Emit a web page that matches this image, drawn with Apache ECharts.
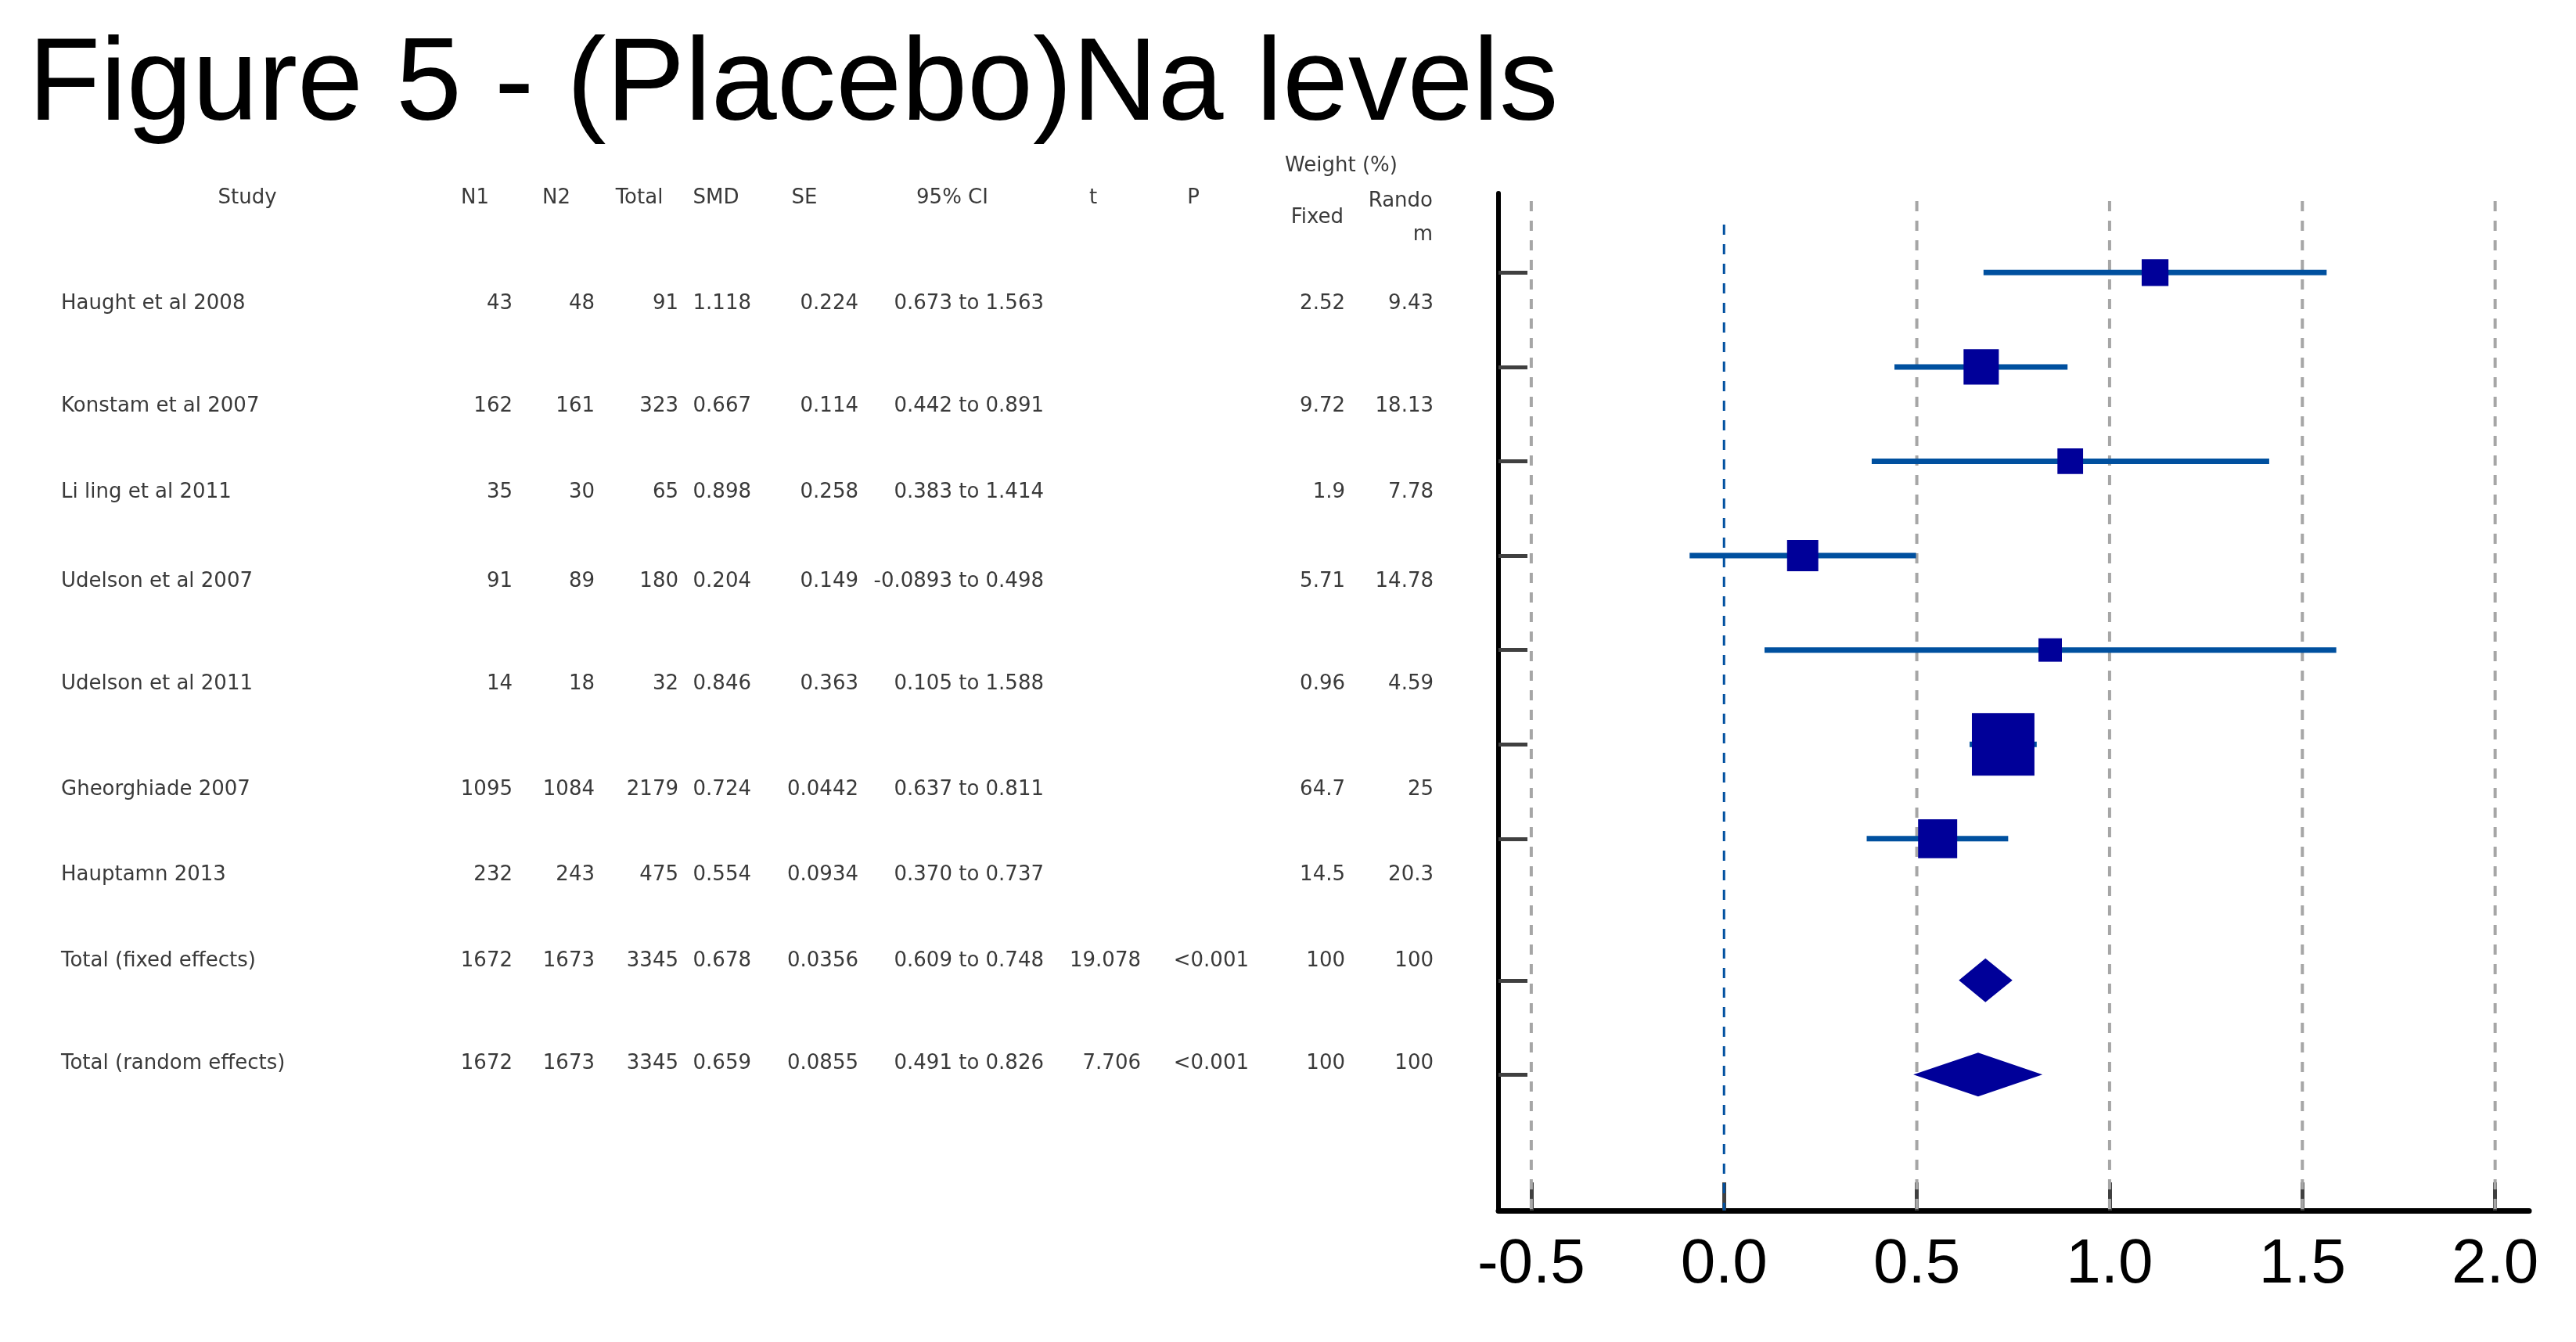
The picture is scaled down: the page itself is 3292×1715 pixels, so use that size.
<!DOCTYPE html>
<html>
<head>
<meta charset="utf-8">
<script src="https://cdn.jsdelivr.net/npm/echarts@6/dist/echarts.min.js"></script>
<style>
html,body{margin:0;padding:0;background:#fff;}
#chart{width:3292px;height:1715px;}
</style>
</head>
<body>
<div id="chart"></div>
<script>
// ---------------- data ----------------
const titleText = 'Figure 5 - (Placebo)Na levels';
const studies = ['Haught et al 2008','Konstam et al 2007','Li ling et al 2011','Udelson et al 2007','Udelson et al 2011','Gheorghiade 2007','Hauptamn 2013','Total (fixed effects)','Total (random effects)'];
const n1 = ['43','162','35','91','14','1095','232','1672','1672'];
const n2 = ['48','161','30','89','18','1084','243','1673','1673'];
const totalN = ['91','323','65','180','32','2179','475','3345','3345'];
const smd = ['1.118','0.667','0.898','0.204','0.846','0.724','0.554','0.678','0.659'];
const se = ['0.224','0.114','0.258','0.149','0.363','0.0442','0.0934','0.0356','0.0855'];
const ciLow = ['0.673','0.442','0.383','-0.0893','0.105','0.637','0.370','0.609','0.491'];
const ciHigh = ['1.563','0.891','1.414','0.498','1.588','0.811','0.737','0.748','0.826'];
const tStat = ['','','','','','','','19.078','7.706'];
const pVal = ['','','','','','','','<0.001','<0.001'];
const weightFixed = ['2.52','9.72','1.9','5.71','0.96','64.7','14.5','100','100'];
const weightRandom = ['9.43','18.13','7.78','14.78','4.59','25','20.3','100','100'];
const pooledCount = 2;
const xTicks = [-0.5, 0, 0.5, 1, 1.5, 2];
const headerLabels = ['Study','N1','N2','Total','SMD','SE','95% CI','t','P'];
const weightHeader = 'Weight (%)';
const weightSubHeaders = ['Fixed','Rando','m'];

// ---------------- layout (pixels / styles) ----------------
const nStudies = studies.length - pooledCount;
const rowPos = studies.map((s, i) => i < nStudies ? i : i + 0.5);
const TABLE_ROW_Y = [388, 519, 629, 743, 874, 1009, 1118, 1228, 1359];
const TABLE_FONT = {fontSize: 26, fontFamily: '"DejaVu Sans"', fill: '#3a3a3a'};
const HEADER_X = [316, 607, 711, 817, 915, 1028, 1217, 1397, 1525];
const HEADER_Y = 253;

const ciText = ciLow.map((v, i) => v + ' to ' + ciHigh[i]);
const columns = [
  {src: studies, x: 78, align: 'left'},
  {src: n1, x: 655, align: 'right'},
  {src: n2, x: 760, align: 'right'},
  {src: totalN, x: 867, align: 'right'},
  {src: smd, x: 960, align: 'right'},
  {src: se, x: 1097, align: 'right'},
  {src: ciText, x: 1334, align: 'right'},
  {src: tStat, x: 1458, align: 'right'},
  {src: pVal, x: 1596, align: 'right'},
  {src: weightFixed, x: 1719, align: 'right'},
  {src: weightRandom, x: 1832, align: 'right'}
];

function txt(text, x, y, align, extra) {
  return {
    type: 'text', x: x, y: y, silent: true,
    style: Object.assign({text: text, align: align, verticalAlign: 'middle'}, TABLE_FONT, extra || {})
  };
}

const graphics = [];
graphics.push({
  type: 'text', x: 36, y: 111, silent: true,
  style: {text: titleText, fontSize: 151, fontFamily: '"Liberation Sans", Arial', fill: '#000', align: 'left', verticalAlign: 'middle'}
});
headerLabels.forEach((h, i) => graphics.push(txt(h, HEADER_X[i], HEADER_Y, 'center')));
graphics.push(txt(weightHeader, 1714, 212, 'center'));
graphics.push(txt(weightSubHeaders[0], 1717, 278, 'right'));
graphics.push(txt(weightSubHeaders[1], 1831, 257, 'right'));
graphics.push(txt(weightSubHeaders[2], 1831, 300, 'right'));
columns.forEach(col => {
  col.src.forEach((v, i) => {
    if (v !== '') graphics.push(txt(v, col.x, TABLE_ROW_Y[i], col.align));
  });
});

// series data
const studyData = [];
const pooledData = [];
studies.forEach((s, i) => {
  const item = [Number(smd[i]), rowPos[i], Number(ciLow[i]), Number(ciHigh[i]), Number(weightFixed[i])];
  if (i < nStudies) studyData.push(item); else pooledData.push(item);
});

const chart = echarts.init(document.getElementById('chart'));
chart.setOption({
  backgroundColor: '#ffffff',
  animation: false,
  graphic: {elements: graphics},
  grid: {left: 1915, top: 247, width: 1317, height: 1300, containLabel: false},
  xAxis: {
    type: 'value', min: -0.585, max: 2.088,
    axisLine: {show: true, onZero: false, lineStyle: {color: '#000', width: 7}},
    axisTick: {show: true, inside: true, length: 36, customValues: xTicks, lineStyle: {color: '#404040', width: 5}},
    axisLabel: {show: true, customValues: xTicks, formatter: v => Number(v).toFixed(1), fontSize: 80, fontFamily: '"Liberation Sans", Arial', color: '#000', margin: 30},
    splitLine: {show: false}
  },
  yAxis: {
    type: 'value', inverse: true, min: -0.84, max: 9.94,
    axisLine: {show: true, onZero: false, lineStyle: {color: '#000', width: 6}},
    axisTick: {show: true, inside: true, length: 37, customValues: rowPos, lineStyle: {color: '#404040', width: 5}},
    axisLabel: {show: false},
    splitLine: {show: false}
  },
  series: [
    {
      type: 'custom', name: 'grid', z: 1, silent: true,
      data: xTicks.map(v => [v]),
      encode: {x: 0},
      renderItem: function (params, api) {
        const cs = params.coordSys;
        const x = api.coord([api.value(0), 0])[0];
        const zero = api.value(0) === 0;
        return {
          type: 'line',
          shape: {x1: x, y1: cs.y + (zero ? 40 : 10), x2: x, y2: cs.y + cs.height},
          style: {stroke: zero ? '#0050a0' : '#a6a6a6', lineWidth: zero ? 3 : 4, lineDash: [13, 12]}
        };
      }
    },
    {
      type: 'custom', name: 'studies', z: 5, silent: true,
      data: studyData,
      encode: {x: [0, 2, 3], y: 1},
      renderItem: function (params, api) {
        const y = api.value(1);
        const c = api.coord([api.value(0), y]);
        const lo = api.coord([api.value(2), y]);
        const hi = api.coord([api.value(3), y]);
        const s = 23 + 7.08 * Math.sqrt(api.value(4));
        return {
          type: 'group',
          children: [
            {type: 'line', shape: {x1: lo[0], y1: c[1], x2: hi[0], y2: c[1]}, style: {stroke: '#00509f', lineWidth: 7}},
            {type: 'rect', shape: {x: c[0] - s / 2, y: c[1] - s / 2, width: s, height: s}, style: {fill: '#000099'}}
          ]
        };
      }
    },
    {
      type: 'custom', name: 'pooled', z: 5, silent: true,
      data: pooledData,
      encode: {x: [0, 2, 3], y: 1},
      renderItem: function (params, api) {
        const y = api.value(1);
        const c = api.coord([api.value(0), y]);
        const lo = api.coord([api.value(2), y]);
        const hi = api.coord([api.value(3), y]);
        const h = 28;
        return {
          type: 'polygon',
          shape: {points: [[lo[0], c[1]], [c[0], c[1] - h], [hi[0], c[1]], [c[0], c[1] + h]]},
          style: {fill: '#000099'}
        };
      }
    }
  ]
});
</script>
</body>
</html>
